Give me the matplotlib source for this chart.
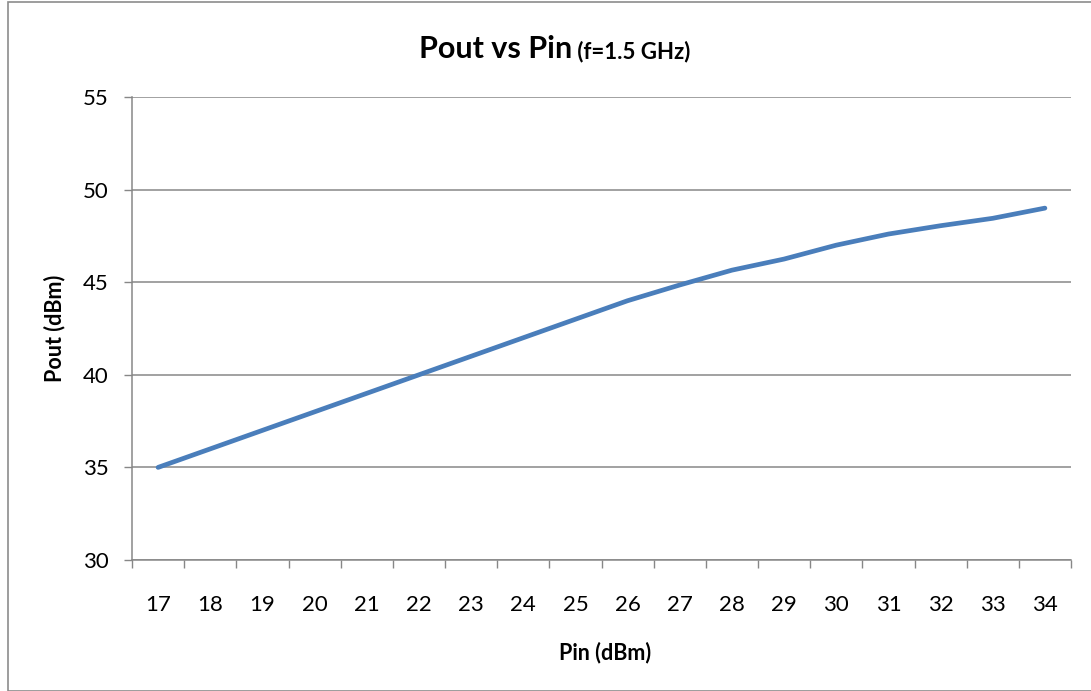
import matplotlib
matplotlib.use('Agg')
import matplotlib.pyplot as plt
from matplotlib.patches import Rectangle
import numpy as np

# --- data ---
pin = [17, 18, 19, 20, 21, 22, 23, 24, 25, 26, 27, 28, 29, 30, 31, 32, 33, 34]
pout = [35.0, 36.0, 37.0, 38.0, 39.0, 40.0, 41.0, 42.0, 43.0, 44.0,
        44.85, 45.65, 46.25, 47.0, 47.6, 48.05, 48.45, 49.0]
y_ticks = [30, 35, 40, 45, 50, 55]

plt.rcParams['font.family'] = ['Lato', 'DejaVu Sans']
grid_col = '#878787'
line_col = '#4A7EBB'

fig = plt.figure(figsize=(10.91, 6.91), dpi=100)
ax = fig.add_axes([132/1091, 131/691, 939/1091, 463/691])

# outer chart border
fig.patches.append(Rectangle((8/1091, 0), 1.2, 689/691, transform=fig.transFigure,
                             fill=False, edgecolor='#8c8c8c', linewidth=1.2))

xpos = np.arange(len(pin))
ax.plot(xpos, pout, color=line_col, linewidth=3.4, solid_capstyle='round')

ax.set_xlim(-0.5, len(pin) - 0.5)
ax.set_ylim(30, 55)
ax.set_yticks(y_ticks)
ax.yaxis.grid(True, color=grid_col, linewidth=1.1)
ax.set_axisbelow(True)

# category axis: boundary ticks, labels at centers
ax.set_xticks(np.arange(-0.5, len(pin), 1.0))
ax.set_xticklabels([])
ax.set_xticks(xpos, minor=True)
ax.set_xticklabels([str(p) for p in pin], minor=True)
ax.tick_params(axis='x', which='major', length=6, width=1, color=grid_col, direction='out')
ax.tick_params(axis='x', which='minor', length=0, pad=25, labelsize=16)
ax.tick_params(axis='y', length=6, width=1, color=grid_col, pad=11, labelsize=16)

for s in ['top', 'right']:
    ax.spines[s].set_visible(False)
for s in ['left', 'bottom']:
    ax.spines[s].set_color(grid_col)
    ax.spines[s].set_linewidth(1.1)

ax.set_xlabel('Pin (dBm)', fontsize=15.5, fontweight='bold', va='center')
ax.xaxis.set_label_coords((605 - 132) / 939, (560 - 653) / 463)
ax.set_ylabel('Pout (dBm)', fontsize=15.5, fontweight='bold', va='center')
ax.yaxis.set_label_coords((55 - 132) / 939, 0.5)

# title in two sizes
fig.canvas.draw()
r = fig.canvas.get_renderer()
t1 = fig.text(0, 1 - 58/691, 'Pout vs Pin', fontsize=22, fontweight='bold', ha='left', va='baseline')
t2 = fig.text(0, 1 - 58/691, ' (f=1.5 GHz)', fontsize=16, fontweight='bold', ha='left', va='baseline')
w1 = t1.get_window_extent(r).width
w2 = t2.get_window_extent(r).width
x0 = 555 - (w1 + w2) / 2
t1.set_x(x0 / 1091)
t2.set_x((x0 + w1) / 1091)

plt.savefig('out.png', dpi=100)
